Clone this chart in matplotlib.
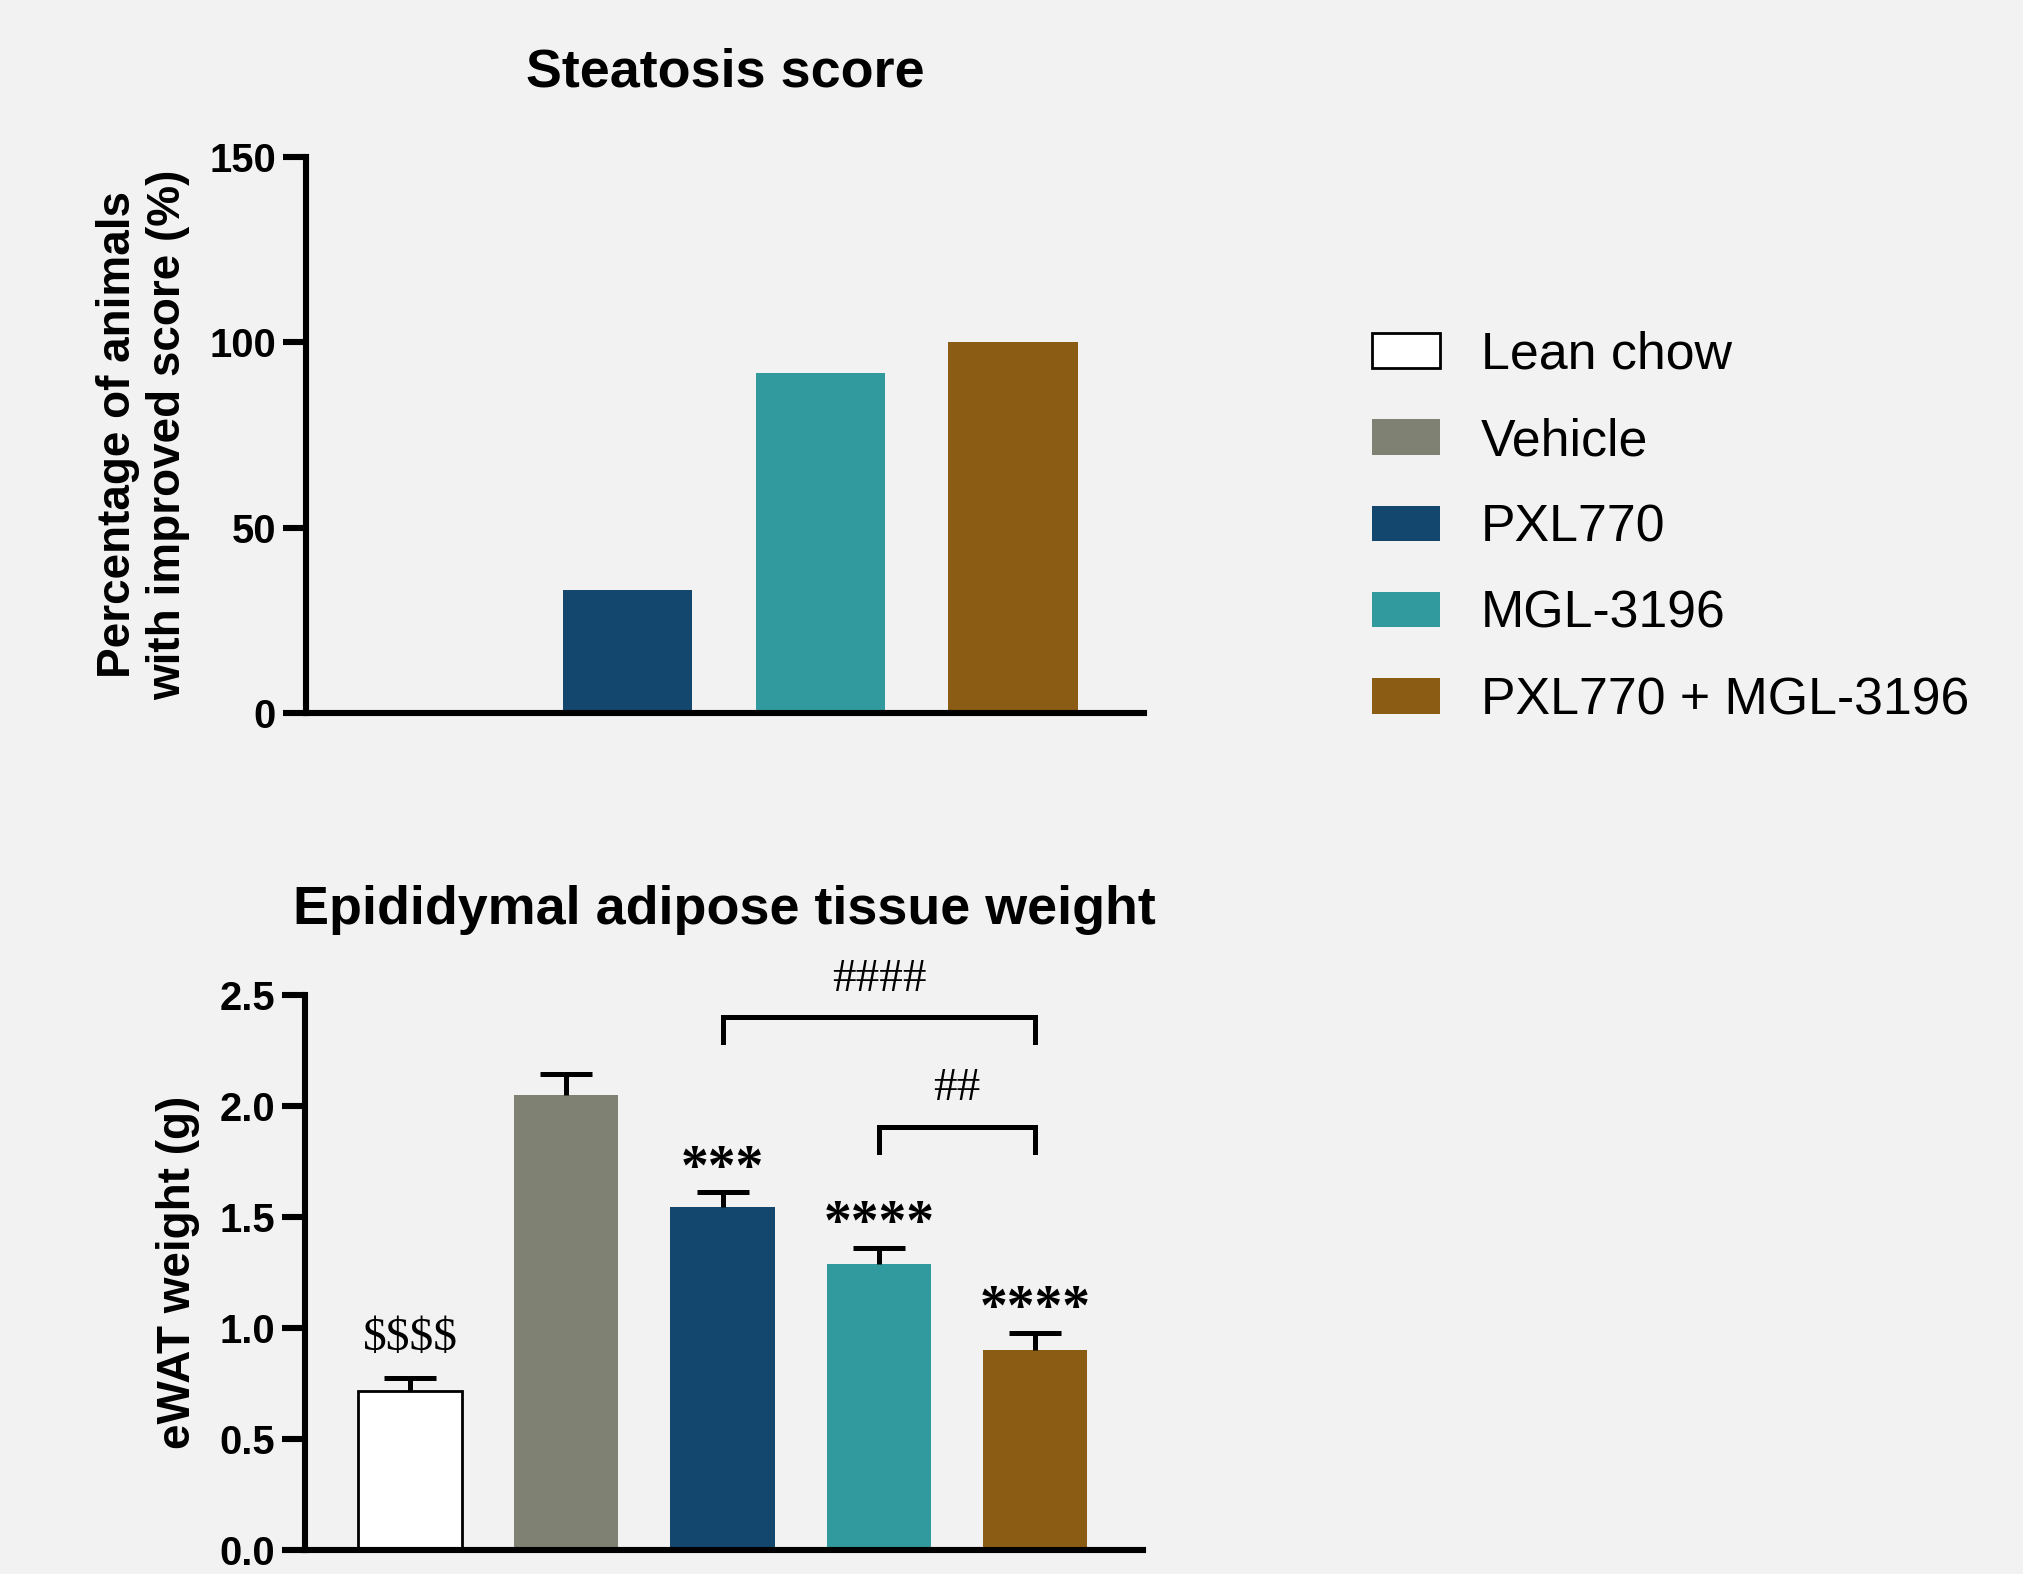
import matplotlib.pyplot as plt

plt.rcParams['font.family'] = ['Liberation Sans', 'DejaVu Sans']

# groups and colours
groups = ['Lean chow', 'Vehicle', 'PXL770', 'MGL-3196', 'PXL770 + MGL-3196']
colors = ['#ffffff', '#7f8273', '#13476e', '#319a9e', '#8b5c14']

# steatosis score (lean chow not shown)
steatosis_pct = [0, 33.3, 91.7, 100]

# epididymal fat weight, mean and SEM
ewat_mean = [0.714, 2.05, 1.543, 1.288, 0.903]
ewat_sem = [0.06, 0.095, 0.07, 0.074, 0.076]
ewat_marks = ['$$$$', '', '***', '****', '****']

# comparisons between treated groups
bracket_pairs = [(2, 4), (3, 4)]
bracket_labels = ['####', '##']
bracket_levels = [2.40, 1.905]

bg = '#f2f2f2'
fig = plt.figure(figsize=(10.115, 7.87), dpi=200, facecolor=bg)
ax1 = fig.add_axes([306 / 2023, 1 - 713 / 1574, 838 / 2023, 556 / 1574])
ax2 = fig.add_axes([305 / 2023, 1 - 1550 / 1574, 838 / 2023, 555 / 1574])


def style_axis(ax, ylabel, title, label_x):
    ax.set_facecolor(bg)
    ax.spines['top'].set_visible(False)
    ax.spines['right'].set_visible(False)
    ax.spines['left'].set_linewidth(2.2)
    ax.spines['bottom'].set_linewidth(2.2)
    ax.set_xticks([])
    ax.tick_params(axis='y', length=8.3, width=2.2, labelsize=14.4, pad=2.5)
    plt.setp(ax.get_yticklabels(), fontweight='bold')
    ax.set_ylabel(ylabel, fontsize=16.5, fontweight='bold')
    ax.yaxis.set_label_coords(label_x, 0.5)
    ax.set_title(title, fontsize=19.4, fontweight='bold', pad=25.5)


# top: steatosis
x1 = range(len(steatosis_pct))
ax1.bar(x1, steatosis_pct, width=0.67, color=colors[1:], linewidth=0)
ax1.set_xlim(-0.67, 3.68)
ax1.set_ylim(0, 150)
ax1.set_yticks([0, 50, 100, 150])
style_axis(ax1, 'Percentage of animals\nwith improved score (%)', 'Steatosis score', -0.138)

# bottom: eWAT weight
x2 = range(len(groups))
bars = ax2.bar(x2, ewat_mean, width=0.667, color=colors,
               edgecolor=['black', 'none', 'none', 'none', 'none'], linewidth=1.0)
eb = ax2.errorbar(x2, ewat_mean, yerr=[[0] * len(groups), ewat_sem], fmt='none',
                  ecolor='black', elinewidth=1.8, capsize=9.4, capthick=1.8, zorder=3)
# only the upper cap is drawn
eb[1][0].set_visible(False)
ax2.set_xlim(-0.672, 4.69)
ax2.set_ylim(0, 2.5)
ax2.set_yticks([0, 0.5, 1.0, 1.5, 2.0, 2.5])
style_axis(ax2, 'eWAT weight (g)', 'Epididymal adipose tissue weight', -0.125)

for i, mark in enumerate(ewat_marks):
    if not mark:
        continue
    if '*' in mark:
        ax2.annotate(mark, (i, ewat_mean[i] + ewat_sem[i]), xytext=(0, 3),
                     textcoords='offset points', ha='center', va='baseline',
                     fontsize=20, fontweight='bold', family='Liberation Serif',
                     parse_math=False)
    else:
        ax2.annotate(mark, (i, ewat_mean[i] + ewat_sem[i]), xytext=(0, 10),
                     textcoords='offset points', ha='center', va='baseline',
                     fontsize=17, family='Liberation Serif', parse_math=False)

for (a, b), lab, y in zip(bracket_pairs, bracket_labels, bracket_levels):
    ax2.plot([a, a, b, b], [y - 0.11, y, y, y - 0.11], color='black', lw=1.8,
             solid_joinstyle='miter', clip_on=False)
    ax2.text((a + b) / 2, y + 0.12, lab, ha='center', va='baseline',
             fontsize=17, family='Liberation Serif', parse_math=False)

fig.legend(bars.patches, groups, loc='center left',
           bbox_to_anchor=(1372 / 2023, 1 - 528 / 1574), frameon=False,
           fontsize=18.7, handlelength=1.31, handleheight=0.67,
           handletextpad=0.79, labelspacing=0.72, borderpad=0, borderaxespad=0)

fig.savefig('out.png', dpi=200, facecolor=bg)
